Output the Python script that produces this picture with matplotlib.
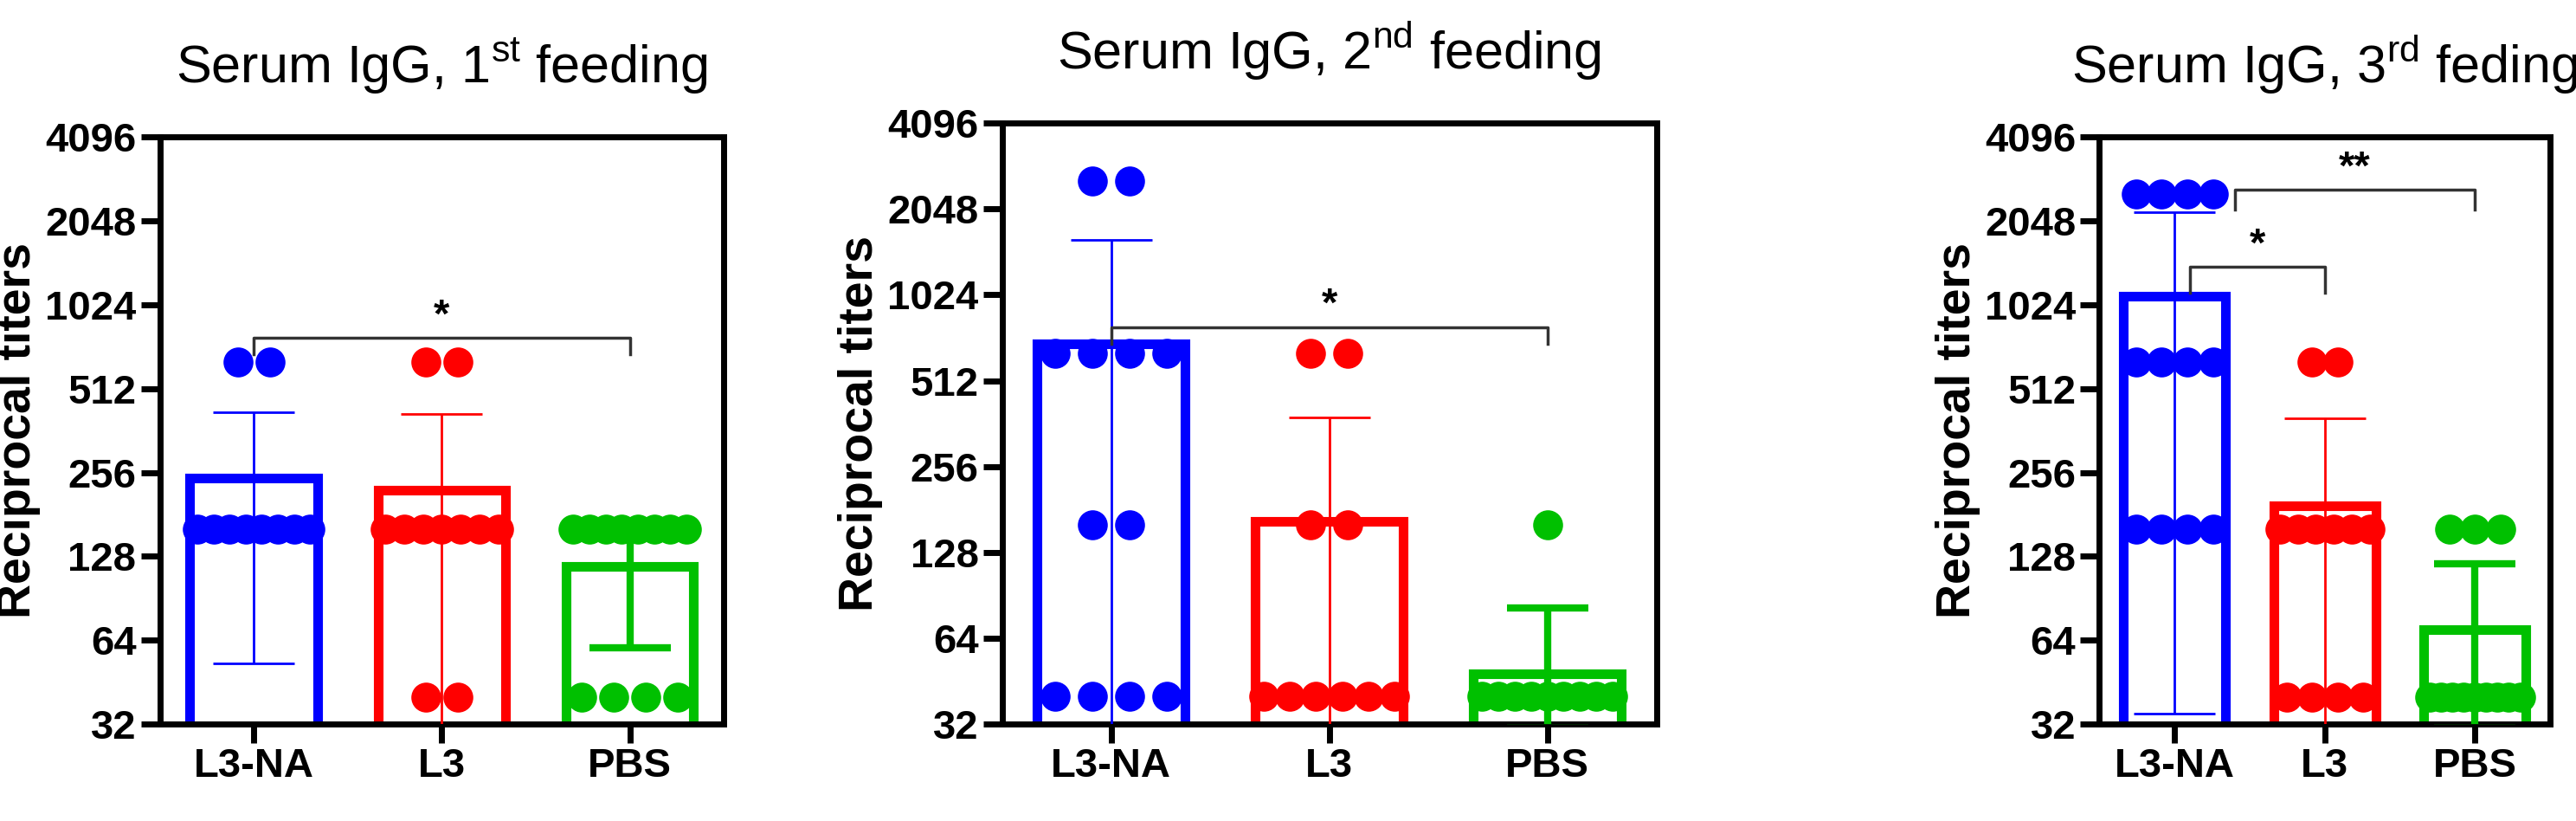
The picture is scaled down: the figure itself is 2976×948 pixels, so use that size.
import numpy as np
import matplotlib.pyplot as plt
from matplotlib.ticker import FixedLocator, NullLocator

plt.rcParams['font.family'] = ['Liberation Sans', 'DejaVu Sans']

groups = ['L3-NA', 'L3', 'PBS']
colors = ['#0000ff', '#ff0000', '#00c000']
titles = ['Serum IgG, 1$^{\\mathregular{st}}$ feeding',
          'Serum IgG, 2$^{\\mathregular{nd}}$ feeding',
          'Serum IgG, 3$^{\\mathregular{rd}}$ feding']
yticks = [32, 64, 128, 256, 512, 1024, 2048, 4096]

# points per group: (titer, count)
points1 = [[(640, 2), (160, 8)], [(640, 2), (160, 7), (40, 2)], [(160, 8), (40, 4)]]
points2 = [[(2560, 2), (640, 4), (160, 2), (40, 4)], [(640, 2), (160, 2), (40, 6)], [(160, 1), (40, 9)]]
points3 = [[(2560, 4), (640, 4), (160, 4)], [(640, 2), (160, 6), (40, 4)], [(160, 3), (40, 9)]]

# bar heights (geometric means) and error bar ends
bars1 = [245, 222, 118]
err_lo1 = [53, 20, 60]
err_hi1 = [420, 415, 170]
bars2 = [690, 165, 48]
err_lo2 = [20, 20, 31]
err_hi2 = [1600, 380, 82]
bars3 = [1100, 195, 70]
err_lo3 = [35, 20, 31]
err_hi3 = [2200, 400, 120]

# brackets: (x0, x1, y, drop, label)
sig1 = [(0, 2, 780, 680, '*')]
sig2 = [(0, 2, 790, 690, '*')]
sig3 = [(0.4, 2, 2650, 2250, '**'), (0.1, 1, 1400, 1130, '*')]

panels = [(points1, bars1, err_lo1, err_hi1, sig1),
          (points2, bars2, err_lo2, err_hi2, sig2),
          (points3, bars3, err_lo3, err_hi3, sig3)]
positions = [[0.062, 0.118, 0.219, 0.715],
             [0.389, 0.118, 0.254, 0.732],
             [0.815, 0.118, 0.175, 0.715]]

fig = plt.figure(figsize=(29.76, 9.48), dpi=100)

for i, (pts, bars, lo, hi, sigs) in enumerate(panels):
    ax = fig.add_axes(positions[i])
    x = np.arange(3)
    ax.bar(x, bars, width=0.68, facecolor='white', edgecolor=colors, linewidth=8, zorder=2)
    for j in range(3):
        lw = 6 if j == 2 else 2
        ax.errorbar(x[j], bars[j], yerr=[[bars[j] - lo[j]], [hi[j] - bars[j]]],
                    color=colors[j], lw=lw, capsize=34, capthick=lw, zorder=3)
        for val, n in pts[j]:
            step = 0.6 / max(n - 1, 1) if n > 4 else 0.17
            offs = (np.arange(n) - (n - 1) / 2) * step
            ax.scatter(x[j] + offs, [val] * n, s=620, color=colors[j], zorder=4, linewidths=0)
    for x0, x1, y, drop, lab in sigs:
        ax.plot([x0, x0, x1, x1], [drop, y, y, drop], color='#333333', lw=2.5, zorder=5)
        ax.text((x0 + x1) / 2, y * 1.02, lab, ha='center', va='bottom', fontsize=34, fontweight='bold')
    ax.set_yscale('log', base=2)
    ax.set_ylim(32, 4096)
    ax.set_xlim(-0.5, 2.5)
    ax.yaxis.set_major_locator(FixedLocator(yticks))
    ax.yaxis.set_minor_locator(NullLocator())
    ax.set_yticklabels([str(t) for t in yticks])
    ax.set_xticks(x)
    ax.set_xticklabels(groups)
    for lab in ax.get_xticklabels() + ax.get_yticklabels():
        lab.set_fontweight('bold')
        lab.set_fontsize(34)
    ax.tick_params(width=5, length=16)
    for s in ax.spines.values():
        s.set_linewidth(5)
    ax.set_ylabel('Reciprocal titers', fontsize=40, fontweight='bold')
    ax.set_title(titles[i], fontsize=44, pad=45)

fig.savefig('out.png', dpi=100)
